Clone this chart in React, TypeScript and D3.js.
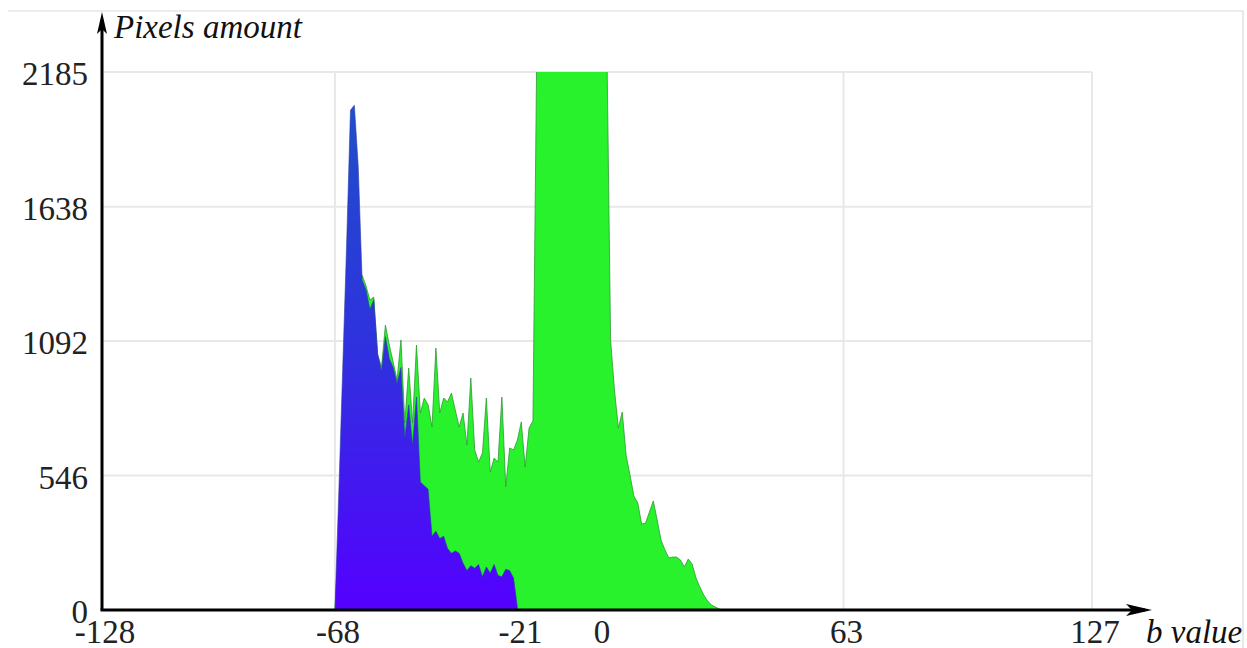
import React from "react";
import * as d3 from "d3";

// b-value bins and pixel counts
const blueBins = [-68, -67, -66, -65, -64, -63, -62, -61, -60, -59, -58, -57, -56, -55, -54, -53, -52, -51, -50, -49, -48, -47, -46, -45, -44, -43, -42, -41, -40, -39, -38, -37, -36, -35, -34, -33, -32, -31, -30, -29, -28, -27, -26, -25, -24, -23, -22, -21];
const blueCounts = [0, 480, 980, 1480, 2030, 2050, 1800, 1340, 1300, 1220, 1260, 1040, 970, 1110, 1020, 985, 920, 985, 700, 833, 670, 865, 520, 505, 490, 300, 320, 290, 300, 250, 230, 240, 230, 190, 160, 180, 170, 185, 135, 175, 150, 185, 140, 135, 165, 160, 130, 10];

const greenBins = [-68, -67, -66, -65, -64, -63, -62, -61, -60, -59, -58, -57, -56, -55, -54, -53, -52, -51, -50, -49, -48, -47, -46, -45, -44, -43, -42, -41, -40, -39, -38, -37, -36, -35, -34, -33, -32, -31, -30, -29, -28, -27, -26, -25, -24, -23, -22, -21, -20, -19, -18, -17, -16, -15, -14, -13, -12, -11, -10, -9, -8, -7, -6, -5, -4, -3, -2, -1, 0, 1, 2, 3, 4, 5, 6, 7, 8, 9, 10, 11, 12, 13, 14, 15, 16, 17, 18, 19, 20, 21, 22, 23, 24, 25, 26, 27, 28, 29, 30, 31, 32];
const greenCounts = [0, 300, 650, 1000, 1200, 1300, 1350, 1360, 1316, 1259, 1271, 1036, 987, 1157, 1076, 1007, 934, 1097, 759, 983, 759, 1076, 800, 861, 833, 743, 1064, 800, 861, 845, 881, 812, 743, 800, 670, 942, 650, 601, 638, 861, 560, 617, 601, 865, 500, 658, 650, 690, 764, 581, 739, 768, 2300, 4800, 7500, 9800, 11500, 12800, 13900, 14600, 15100, 15400, 15300, 14800, 13900, 12400, 10200, 7600, 5400, 3600, 2350, 1097, 893, 739, 804, 629, 548, 463, 435, 349, 353, 398, 443, 365, 284, 244, 211, 215, 215, 203, 175, 207, 187, 130, 93, 61, 37, 20, 12, 4, 0];

const xTicks = [-128, -68, -21, 0, 63, 127];
const xGridTicks = [-68, 63, 127];
const yTicks = [0, 546, 1092, 1638, 2185];

const W = 1247;
const H = 648;
const X0 = 102, X1 = 1092, Y0 = 610, Y1 = 72;
const FONT = "'Liberation Serif', 'Times New Roman', serif";

export default function App() {
  const x = d3.scaleLinear().domain([-128, 127]).range([X0, X1]);
  const y = d3.scaleLinear().domain([0, 2185]).range([Y0, Y1]);

  const green = greenBins.map((b, i) => [b, greenCounts[i]] as [number, number]);
  const blue = blueBins.map((b, i) => [b, blueCounts[i]] as [number, number]);

  const area = d3
    .area<[number, number]>()
    .x((d) => x(d[0]))
    .y0(y(0))
    .y1((d) => y(d[1]));
  const line = d3
    .line<[number, number]>()
    .x((d) => x(d[0]))
    .y((d) => y(d[1]));

  return (
    <svg
      width={W}
      height={H}
      style={{ position: "absolute", left: 0, top: 0, background: "#fff" }}
    >
      <defs>
        <clipPath id="plot">
          <rect x={X0} y={Y1} width={X1 - X0 + 2} height={Y0 - Y1} />
        </clipPath>
        <linearGradient id="blueGrad" gradientUnits="userSpaceOnUse" x1={0} y1={y(2050)} x2={0} y2={Y0}>
          <stop offset="0" stopColor="#1f4fc9" />
          <stop offset="0.5" stopColor="#3030e0" />
          <stop offset="1" stopColor="#5500ff" />
        </linearGradient>
      </defs>

      {/* frame */}
      <line x1={8} y1={11} x2={1243} y2={11} stroke="#dcdcdc" strokeWidth={1.2} />
      <line x1={1243} y1={11} x2={1243} y2={H} stroke="#dcdcdc" strokeWidth={1.2} />

      {/* gridlines */}
      {yTicks.filter((t) => t > 0).map((t) => (
        <line key={"gy" + t} x1={X0} x2={X1} y1={y(t)} y2={y(t)} stroke="#e8e8e8" strokeWidth={2} />
      ))}
      {xGridTicks.map((t) => (
        <line key={"gx" + t} x1={x(t)} x2={x(t)} y1={Y1} y2={Y0} stroke="#e8e8e8" strokeWidth={2} />
      ))}

      <g clipPath="url(#plot)">
        <path d={area(green) ?? ""} fill="#27f22b" />
        <path d={line(green) ?? ""} fill="none" stroke="#2f9a33" strokeWidth={1} strokeOpacity={0.8} />
        <path d={area(blue) ?? ""} fill="url(#blueGrad)" />
        <path d={line(blue) ?? ""} fill="none" stroke="#2a3aa8" strokeWidth={1} strokeOpacity={0.6} />
      </g>

      {/* axes */}
      <line x1={X0} y1={Y0} x2={X0} y2={20} stroke="#000" strokeWidth={3} />
      <path d={`M${X0},12 L${X0 + 5},34 L${X0},29 L${X0 - 5},34 Z`} fill="#000" />
      <line x1={X0 - 1.5} y1={Y0} x2={1145} y2={Y0} stroke="#000" strokeWidth={3} />
      <path d={`M1152,${Y0} L1126,${Y0 - 6} L1132,${Y0} L1126,${Y0 + 6} Z`} fill="#000" />

      {/* tick labels */}
      {yTicks.map((t) => (
        <text key={"ty" + t} x={88} y={y(t) + 13} textAnchor="end" fontFamily={FONT} fontSize={33} fill="#222">
          {t}
        </text>
      ))}
      {xTicks.map((t) => (
        <text key={"tx" + t} x={x(t) + 3} y={643} textAnchor="middle" fontFamily={FONT} fontSize={33} fill="#222">
          {t}
        </text>
      ))}

      <text x={114} y={38} fontFamily={FONT} fontStyle="italic" fontSize={33} fill="#111">
        Pixels amount
      </text>
      <text x={1146} y={643} fontFamily={FONT} fontStyle="italic" fontSize={33} fill="#111">
        b value
      </text>
    </svg>
  );
}
